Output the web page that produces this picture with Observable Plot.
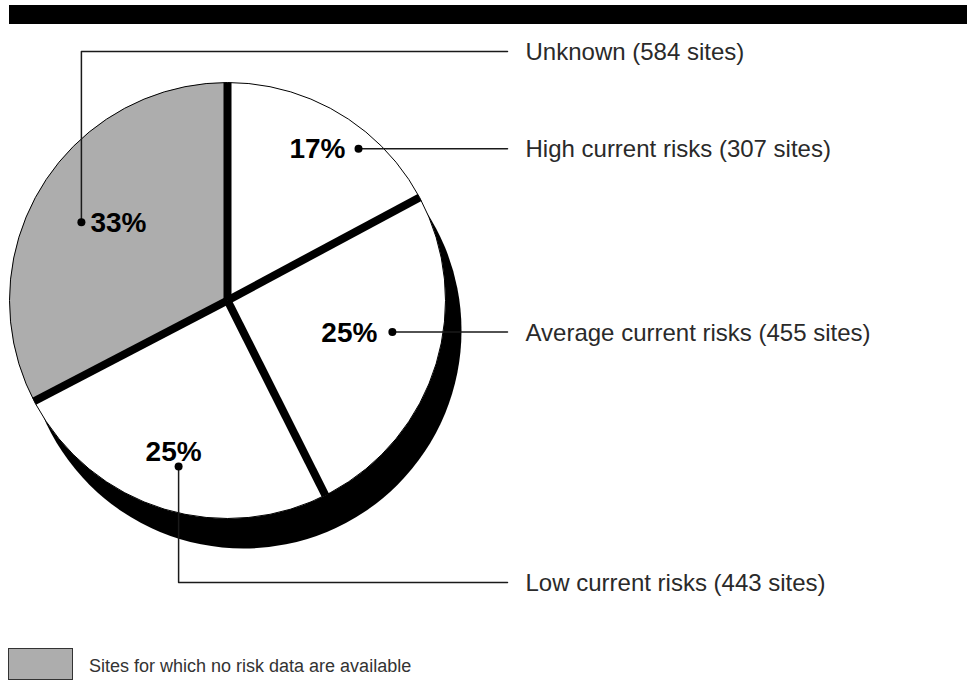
<!DOCTYPE html>
<html>
<head>
<meta charset="utf-8">
<script src="https://cdn.jsdelivr.net/npm/d3@7"></script>
<script src="https://cdn.jsdelivr.net/npm/@observablehq/plot@0.6"></script>
<style>
  html, body { margin: 0; padding: 0; background: #fff; }
  #wrap { position: relative; width: 967px; height: 682px; overflow: hidden; font-family: "Liberation Sans", Arial, Helvetica, sans-serif; }
  #chart { position: absolute; left: 0; top: 0; }
  #topbar { position: absolute; left: 9px; top: 5px; width: 958px; height: 19px; background: #000; }
  #legend-box { position: absolute; left: 8px; top: 648px; width: 63px; height: 30px; background: #adadad; border: 1px solid #333; }
  #legend-text { position: absolute; left: 89px; top: 657px; font-size: 18px; line-height: 18px; color: #333; white-space: nowrap; }
</style>
</head>
<body>
<div id="wrap">
  <div id="chart"></div>
  <div id="topbar"></div>
  <div id="legend-box"></div>
  <div id="legend-text"></div>
</div>
<script>
// ---- data ----
const categories = ["High current risks", "Average current risks", "Low current risks", "Unknown"];
const sites = [307, 455, 443, 584];
const legendLabel = "Sites for which no risk data are available";

// ---- layout (pixels) ----
const W = 967, H = 682;
const CX = 227, CY = 300, R = 218;          // pie centre and radius
const SHADOW = {dx: 16, dy: 30};            // offset of the black extrusion
const LEADER_END_X = 507, LABEL_X = 525;
// label anchor placement: offset from slice mid-angle (deg), radius (fraction of R),
// optional leader row (px), and percent-text placement
const annotLayout = {
  "High current risks":    {dAngle: 9.9,  r: 0.92,  row: null, anchor: "end",    dx: -13, dy: 0},
  "Average current risks": {dAngle: -6.7, r: 0.77,  row: null, anchor: "end",    dx: -15, dy: 1},
  "Low current risks":     {dAngle: -1.5, r: 0.794, row: 582,  anchor: "middle", dx: -5,  dy: -15},
  "Unknown":               {dAngle: -3.1, r: 0.76,  row: 51,   anchor: "start",  dx: 9,   dy: 1}
};

// ---- derived ----
const total = d3.sum(sites);
const rad = d => d * Math.PI / 180;
const polar = (deg, r) => [r * Math.sin(rad(deg)), r * Math.cos(rad(deg))];
const pxX = px => (px - CX) / R;
const pxY = py => (CY - py) / R;

let acc = 0;
const slices = categories.map((c, i) => {
  const a0 = acc / total * 360;
  acc += sites[i];
  const a1 = acc / total * 360;
  return {category: c, sites: sites[i], a0, a1, mid: (a0 + a1) / 2,
          pct: Math.round(sites[i] / total * 100) + "%"};
});

const slicePts = slices.flatMap(s => {
  const n = Math.max(2, Math.ceil(s.a1 - s.a0));
  const pts = [{category: s.category, x: 0, y: 0}];
  for (let k = 0; k <= n; k++) {
    const [x, y] = polar(s.a0 + (s.a1 - s.a0) * k / n, 1);
    pts.push({category: s.category, x, y});
  }
  pts.push({category: s.category, x: 0, y: 0});
  return pts;
});

const anns = slices.map(s => {
  const L = annotLayout[s.category];
  const [x, y] = polar(s.mid + L.dAngle, L.r);
  const rowY = L.row == null ? y : pxY(L.row);
  return {...s, ...L, x, y, rowY, label: `${s.category} (${s.sites} sites)`};
});

const leaderPts = anns.flatMap(a => {
  const pts = [{category: a.category, x: a.x, y: a.y}];
  if (a.row != null) pts.push({category: a.category, x: a.x, y: a.rowY});
  pts.push({category: a.category, x: pxX(LEADER_END_X), y: a.rowY});
  return pts;
});

const font = "'Liberation Sans', Arial, Helvetica, sans-serif";

const chart = Plot.plot({
  width: W,
  height: H,
  margin: 0,
  x: {domain: [pxX(0), pxX(W)], axis: null},
  y: {domain: [pxY(H), pxY(0)], axis: null},
  color: {domain: categories, range: ["#ffffff", "#ffffff", "#ffffff", "#adadad"]},
  style: {fontFamily: font, background: "transparent", overflow: "visible"},
  marks: [
    // extrusion shadow
    Plot.dot([{x: SHADOW.dx / R, y: -SHADOW.dy / R}], {x: "x", y: "y", r: R, fill: "#000", stroke: "none"}),
    // slices
    Plot.line(slicePts, {x: "x", y: "y", z: "category", fill: "category", stroke: "none", curve: "linear"}),
    // outline
    Plot.dot([{x: 0, y: 0}], {x: "x", y: "y", r: R, fill: "none", stroke: "#000", strokeWidth: 1}),
    // thick separators
    Plot.link(slices, {
      x1: () => 0, y1: () => 0,
      x2: d => polar(d.a0, 1)[0], y2: d => polar(d.a0, 1)[1],
      stroke: "#000", strokeWidth: 8, strokeLinecap: "butt"
    }),
    // leader lines
    Plot.line(leaderPts, {x: "x", y: "y", z: "category", stroke: "#1a1a1a", strokeWidth: 1.5, curve: "linear"}),
    // anchor dots
    Plot.dot(anns, {x: "x", y: "y", r: 4, fill: "#000", stroke: "none"}),
    // percentage labels
    ...anns.map(a => Plot.text([a], {
      x: "x", y: "y", text: "pct", textAnchor: a.anchor, dx: a.dx, dy: a.dy,
      fontSize: 28, fontWeight: "bold", fill: "#000"
    })),
    // category labels
    Plot.text(anns, {
      x: () => pxX(LABEL_X), y: "rowY", text: "label", textAnchor: "start", dy: 1,
      fontSize: 24, fill: "#2a2a2a"
    })
  ]
});

document.getElementById("chart").appendChild(chart);
document.getElementById("legend-text").textContent = legendLabel;
</script>
</body>
</html>
